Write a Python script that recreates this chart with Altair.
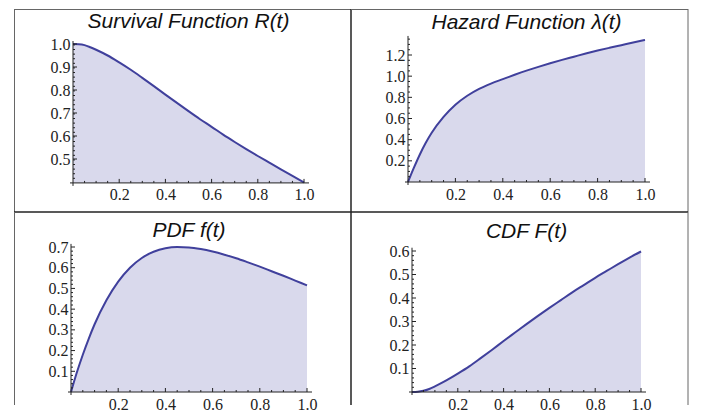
import altair as alt
import pandas as pd

# ---- data ----
t = [0, 0.025, 0.05, 0.075, 0.1, 0.15, 0.2, 0.25, 0.3, 0.35, 0.4, 0.45, 0.5,
     0.55, 0.6, 0.65, 0.7, 0.75, 0.8, 0.85, 0.9, 0.95, 1.0]
survival = [1.000, 0.999, 0.995, 0.986, 0.975, 0.950, 0.920, 0.888, 0.853, 0.817,
            0.780, 0.744, 0.708, 0.673, 0.640, 0.606, 0.574, 0.543, 0.513, 0.484,
            0.455, 0.427, 0.398]
hazard = [0, 0.135, 0.26, 0.37, 0.465, 0.615, 0.73, 0.815, 0.88, 0.93, 0.972,
          1.013, 1.052, 1.088, 1.122, 1.154, 1.184, 1.214, 1.242, 1.268, 1.293,
          1.318, 1.342]
pdf_vals = [0, 0.095, 0.18, 0.257, 0.327, 0.443, 0.533, 0.600, 0.647, 0.677,
            0.694, 0.700, 0.698, 0.690, 0.678, 0.663, 0.646, 0.626, 0.605, 0.583,
            0.561, 0.538, 0.515]
cdf_vals = [0, 0.001, 0.005, 0.013, 0.024, 0.049, 0.078, 0.109, 0.144, 0.180,
            0.217, 0.253, 0.289, 0.324, 0.358, 0.391, 0.424, 0.455, 0.486, 0.515,
            0.544, 0.572, 0.598]

titles = ["Survival Function R(t)", "Hazard Function \u03bb(t)", "PDF f(t)", "CDF F(t)"]
x_labels = [0.2, 0.4, 0.6, 0.8, 1.0]
surv_labels = [0.5, 0.6, 0.7, 0.8, 0.9, 1.0]
haz_labels = [0.2, 0.4, 0.6, 0.8, 1.0, 1.2]
pdf_labels = [0.1, 0.2, 0.3, 0.4, 0.5, 0.6, 0.7]
cdf_labels = [0.1, 0.2, 0.3, 0.4, 0.5, 0.6]

LINE = "#40409c"
FILL = "#d9d9ec"
AXC = "#222222"
FRAME_OUT = "#666666"
FRAME_IN = "#222222"
SERIF = "Liberation Serif"
SANS = "Liberation Sans"


def minor(lo, hi, step, majors):
    n = int(round((hi - lo) / step))
    vals = [round(lo + i * step, 3) for i in range(n + 1)]
    return [v for v in vals if all(abs(v - m) > 1e-6 for m in majors)]


def panel(v, title, W, H, x0, x1, va, pa, vb, pb, base, ytop, ylabels,
          yminor_step, title_y, edges):
    xs = x1 - x0
    xdom = [-x0 / xs, (W - x0) / xs]
    ys = (pb - pa) / (va - vb)
    ydom = [va - (H - pa) / ys, va + pa / ys]
    base_px = pa + (va - base) * ys
    sx = alt.Scale(domain=xdom, nice=False, zero=False)
    sy = alt.Scale(domain=ydom, nice=False, zero=False)

    xaxis = alt.Axis(values=x_labels, format=".1f", offset=-(H - base_px),
                     domain=False, ticks=False, grid=False, title=None,
                     labelFont=SERIF, labelFontSize=16, labelColor=AXC,
                     labelPadding=4, labelFlush=False, labelOverlap=False)
    yaxis = alt.Axis(values=ylabels, format=".1f", offset=-x0,
                     domain=False, ticks=False, grid=False, title=None,
                     labelFont=SERIF, labelFontSize=16, labelColor=AXC,
                     labelPadding=3, labelFlush=False, labelOverlap=False)

    def X(f):
        return alt.X(f, scale=sx, axis=xaxis)

    def Y(f):
        return alt.Y(f, scale=sy, axis=yaxis)

    df = pd.DataFrame({"t": t, "v": v})
    area = alt.Chart(df).mark_area(color=FILL, interpolate="monotone").encode(
        x=X("t:Q"), y=Y("v:Q"), y2=alt.datum(base),
    )
    line = alt.Chart(df).mark_line(color=LINE, strokeWidth=2,
                                   interpolate="monotone").encode(
        x=X("t:Q"), y=Y("v:Q"),
    )

    # axis lines
    ax_df = pd.DataFrame({"x0": [0.0], "x1": [1.0], "b": [base], "top": [ytop]})
    xline = alt.Chart(ax_df).mark_rule(color=AXC, strokeWidth=1, xOffset=-3,
                                        x2Offset=5).encode(
        x=X("x0:Q"), x2="x1:Q", y=Y("b:Q"))
    yline = alt.Chart(ax_df).mark_rule(color=AXC, strokeWidth=1, yOffset=3).encode(
        x=X("x0:Q"), y=Y("b:Q"), y2="top:Q")

    # ticks
    xt_major = pd.DataFrame({"x": x_labels, "b": [base] * len(x_labels)})
    xm = minor(0.0, 1.0, 0.05, x_labels + [0.0])
    xt_minor = pd.DataFrame({"x": xm, "b": [base] * len(xm)})
    xtm = alt.Chart(xt_major).mark_rule(color=AXC, y2Offset=-4).encode(
        x=X("x:Q"), y=Y("b:Q"), y2="b:Q")
    xtn = alt.Chart(xt_minor).mark_rule(color=AXC, y2Offset=-2).encode(
        x=X("x:Q"), y=Y("b:Q"), y2="b:Q")
    yt_major = pd.DataFrame({"y": ylabels, "z": [0.0] * len(ylabels)})
    ym = minor(base if base > 0 else 0.0, ytop, yminor_step, ylabels)
    ym = [y for y in ym if y > base + 1e-6 and y <= ytop]
    yt_minor = pd.DataFrame({"y": ym, "z": [0.0] * len(ym)})
    ytm = alt.Chart(yt_major).mark_rule(color=AXC, x2Offset=4).encode(
        x=X("z:Q"), x2="z:Q", y=Y("y:Q"))
    ytn = alt.Chart(yt_minor).mark_rule(color=AXC, x2Offset=2).encode(
        x=X("z:Q"), x2="z:Q", y=Y("y:Q"))

    # title
    tdf = pd.DataFrame({"x": [0.5], "s": [title]})
    ttl = alt.Chart(tdf).mark_text(font=SANS, fontSize=21, fontStyle="italic",
                                   baseline="alphabetic", align="center",
                                   color="#111111").encode(
        x=X("x:Q"), y=alt.value(title_y), text="s:N")

    # frame edges (decoration)
    one = pd.DataFrame({"a": [0]})
    frames = []
    for e in edges:
        kind, col, sw = e
        if kind == "left":
            enc = dict(x=alt.value(0.5), y=alt.value(0), y2=alt.value(H))
        elif kind == "right":
            enc = dict(x=alt.value(W), y=alt.value(0), y2=alt.value(H))
        elif kind == "top":
            enc = dict(y=alt.value(0.5), x=alt.value(0), x2=alt.value(W))
        else:
            enc = dict(y=alt.value(H), x=alt.value(0), x2=alt.value(W))
        frames.append(alt.Chart(one).mark_rule(color=col, strokeWidth=sw).encode(**enc))

    return alt.layer(area, line, xline, yline, xtm, xtn, ytm, ytn, ttl,
                     *frames).properties(width=W, height=H)


W = 337
H_TOP = 203
H_BOT = 193

tl = panel(survival, titles[0], W, H_TOP, 59, 290, 1.0, 35, 0.5, 150, 0.396, 1.013,
           surv_labels, 0.02, 19,
           [("left", FRAME_OUT, 1), ("top", FRAME_OUT, 1),
            ("right", FRAME_IN, 1.5), ("bottom", FRAME_IN, 1.5)])
tr = panel(hazard, titles[1], W, H_TOP, 57, 294, 0.0, 173, 1.2, 46, 0.0, 1.38,
           haz_labels, 0.05, 20,
           [("top", FRAME_OUT, 1), ("right", FRAME_OUT, 1),
            ("bottom", FRAME_IN, 1.5)])
bl = panel(pdf_vals, titles[2], W, H_BOT, 57, 293, 0.0, 180, 0.7, 35, 0.0, 0.715,
           pdf_labels, 0.02, 24.7,
           [("left", FRAME_OUT, 1), ("right", FRAME_IN, 1.5)])
br = panel(cdf_vals, titles[3], W, H_BOT, 61, 290, 0.0, 180, 0.6, 39, 0.0, 0.614,
           cdf_labels, 0.02, 25.7,
           [("right", FRAME_OUT, 1)])

chart = alt.concat(
    tl, tr, bl, br, columns=2, spacing=0, bounds="flush",
).properties(
    padding={"left": 5, "top": 0, "right": 5, "bottom": 0},
    background="white",
).configure_view(stroke=None)

chart.save("out.html", embed_options={"renderer": "svg", "actions": False})
